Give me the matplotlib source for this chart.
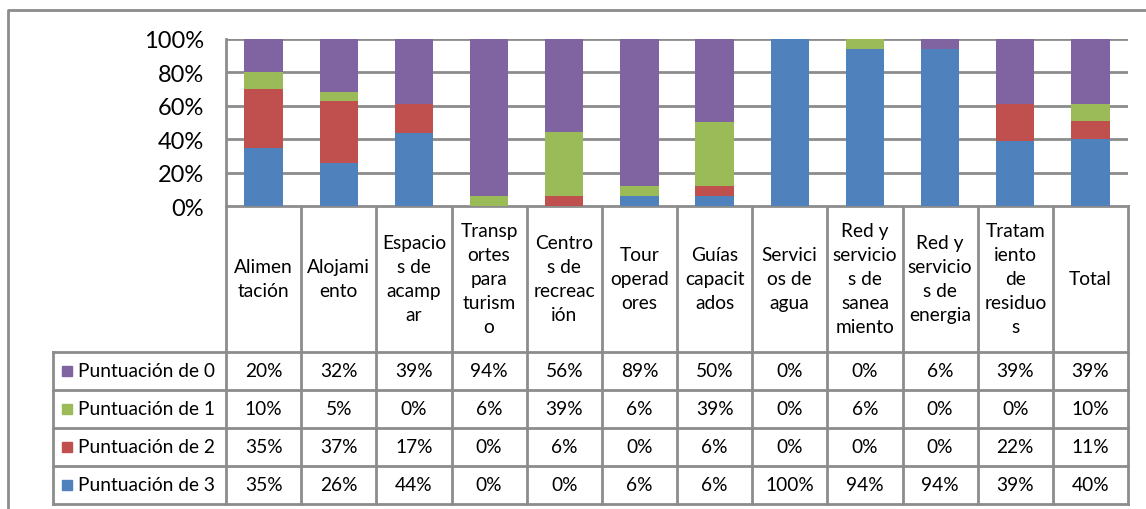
import numpy as np
import matplotlib
matplotlib.use("Agg")
from matplotlib import pyplot as plt
from matplotlib.patches import Rectangle

plt.rcParams['font.family'] = ['Lato', 'DejaVu Sans']

# column headings, wrapped the way the data table shows them
categories = [
    "Alimen\ntación", "Alojami\nento", "Espacio\ns de\nacamp\nar",
    "Transp\nortes\npara\nturism\no", "Centro\ns de\nrecreac\nión",
    "Tour\noperad\nores", "Guías\ncapacit\nados", "Servici\nos de\nagua",
    "Red y\nservicio\ns de\nsanea\nmiento", "Red y\nservicio\ns de\nenergia",
    "Tratam\niento\nde\nresiduo\ns", "Total",
]

score0 = [20, 32, 39, 94, 56, 89, 50, 0, 0, 6, 39, 39]
score1 = [10, 5, 0, 6, 39, 6, 39, 0, 6, 0, 0, 10]
score2 = [35, 37, 17, 0, 6, 0, 6, 0, 0, 0, 22, 11]
score3 = [35, 26, 44, 0, 0, 6, 6, 100, 94, 94, 39, 40]

series_names = ["Puntuación de 0", "Puntuación de 1",
                "Puntuación de 2", "Puntuación de 3"]
series_vals = [score0, score1, score2, score3]
colors = ["#8064A2", "#9BBB59", "#C0504D", "#4F81BD"]
yticks = [0, 20, 40, 60, 80, 100]

W, H = 1146, 510
grey = "#8C8C8C"

# pixel layout of the plot area and the table under it
px_left, px_right = 226, 1128
px_top, px_zero = 40, 207
leg_left = 53
row_edges = [207, 353, 391, 429, 467, 505]
ncol = len(categories)
colw = (px_right - px_left) / ncol
fs = 13.8

fig = plt.figure(figsize=(W / 100, H / 100), dpi=100)

# stacked 100% bars
ax = fig.add_axes([px_left / W, 1 - px_zero / H,
                   (px_right - px_left) / W, (px_zero - px_top) / H])
data = np.array(series_vals, dtype=float)
pct = data / data.sum(axis=0) * 100
x = np.arange(ncol)
bottom = np.zeros(ncol)
for k in [3, 2, 1, 0]:
    ax.bar(x, pct[k], 0.51, bottom=bottom, color=colors[k],
           edgecolor="none", zorder=3)
    bottom += pct[k]
ax.set_xlim(-0.5, ncol - 0.5)
ax.set_ylim(0, 100)
ax.set_yticks(yticks)
ax.set_yticklabels([f"{t}%" for t in yticks], fontsize=17)
ax.tick_params(axis="y", length=0, pad=16)
ax.set_xticks([])
ax.grid(axis="y", color=grey, linewidth=2, zorder=1)
for s in ["top", "right", "bottom"]:
    ax.spines[s].set_visible(False)
ax.spines["left"].set_color(grey)
ax.spines["left"].set_linewidth(2)

# overlay in pixel units for the table and outer frame
ov = fig.add_axes([0, 0, 1, 1], zorder=-1)
ov.set_xlim(0, W)
ov.set_ylim(H, 0)
ov.axis("off")

# outer chart frame
ov.plot([8, 8, W], [H, 11, 11], color=grey, lw=2)

# table grid
for i in range(ncol + 1):
    xe = px_left + i * colw
    ov.plot([xe, xe], [row_edges[0], row_edges[-1]], color=grey, lw=2)
ov.plot([leg_left, leg_left], [row_edges[1], row_edges[-1]], color=grey, lw=2)
ov.plot([px_left, px_right], [row_edges[0]] * 2, color=grey, lw=2)
for ye in row_edges[1:]:
    ov.plot([leg_left, px_right], [ye, ye], color=grey, lw=2)

# header cells
for i, name in enumerate(categories):
    cx = px_left + (i + 0.5) * colw
    ov.text(cx, (row_edges[0] + row_edges[1]) / 2, name, ha="center",
            va="center", fontsize=fs, linespacing=1.5)

# value rows with legend keys
for r, (name, vals) in enumerate(zip(series_names, series_vals)):
    cy = (row_edges[r + 1] + row_edges[r + 2]) / 2
    ov.add_patch(Rectangle((62, cy - 5), 10, 10, color=colors[r]))
    ov.text(78, cy, name, ha="left", va="center", fontsize=fs)
    for i, v in enumerate(vals):
        cx = px_left + (i + 0.5) * colw
        ov.text(cx, cy, f"{v}%", ha="center", va="center", fontsize=fs)

fig.savefig("out.png", dpi=100)
